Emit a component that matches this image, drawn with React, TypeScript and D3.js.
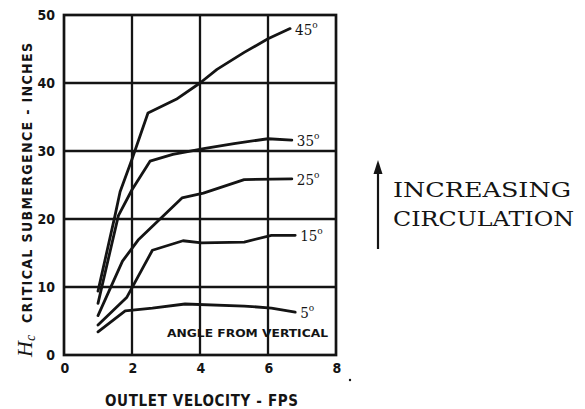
import React from "react";
import * as d3 from "d3";

const xTicks = [0, 2, 4, 6, 8];
const yTicks = [0, 10, 20, 30, 40, 50];
const seriesLabels = ["45°", "35°", "25°", "15°", "5°"];
const curve45 = [[1.0, 9.4], [1.5, 20.5], [1.65, 24.0], [2.0, 28.8], [2.47, 35.6], [3.3, 37.6], [4.0, 40.0], [4.5, 42.0], [5.3, 44.5], [6.0, 46.5], [6.65, 48.0]];
const curve35 = [[1.0, 7.6], [1.6, 20.5], [2.0, 24.3], [2.53, 28.5], [3.2, 29.5], [4.15, 30.4], [5.0, 31.1], [6.0, 31.8], [6.7, 31.6]];
const curve25 = [[1.0, 5.8], [1.72, 13.8], [2.18, 16.9], [3.47, 23.1], [4.1, 23.8], [5.3, 25.8], [6.7, 25.9]];
const curve15 = [[1.0, 4.4], [1.85, 8.5], [2.6, 15.4], [3.5, 16.8], [4.05, 16.5], [5.3, 16.6], [6.1, 17.6], [6.8, 17.6]];
const curve5 = [[1.0, 3.4], [1.8, 6.5], [2.6, 6.9], [3.56, 7.5], [5.3, 7.2], [6.1, 6.9], [6.8, 6.3]];
const curves = [curve45, curve35, curve25, curve15, curve5];

export default function App() {
  const x = d3.scaleLinear().domain([0, 8]).range([64, 336]);
  const y = d3.scaleLinear().domain([0, 50]).range([355, 15]);
  const line = d3.line<number[]>().x((d) => x(d[0])).y((d) => y(d[1]));
  const ink = "#141414";
  const stencil = "'DejaVu Sans Condensed', 'DejaVu Sans', sans-serif";
  const slab = "'DejaVu Serif', serif";
  return (
    <svg width={585} height={409} style={{ position: "absolute", left: 0, top: 0, background: "#fff" }}>
      {/* grid */}
      {xTicks.slice(1, -1).map((t) => (
        <line key={"gx" + t} x1={x(t)} x2={x(t)} y1={y(50)} y2={y(0)} stroke={ink} strokeWidth={2.3} />
      ))}
      {yTicks.slice(1, -1).map((t) => (
        <line key={"gy" + t} x1={x(0)} x2={x(8)} y1={y(t)} y2={y(t)} stroke={ink} strokeWidth={2.3} />
      ))}
      <rect x={x(0)} y={y(50)} width={x(8) - x(0)} height={y(0) - y(50)} fill="none" stroke={ink} strokeWidth={2.7} />
      {/* tick labels */}
      {xTicks.map((t) => (
        <text key={"xt" + t} x={x(t) + 1} y={373} textAnchor="middle" fontFamily={stencil} fontWeight="bold" fontSize={14} fill={ink}>{t}</text>
      ))}
      {yTicks.map((t) => (
        <text key={"yt" + t} x={55} y={y(t) + 5} textAnchor="end" fontFamily={stencil} fontWeight="bold" fontSize={14} fill={ink}>{t}</text>
      ))}
      {/* curves */}
      {curves.map((c, i) => (
        <path key={"c" + i} d={line(c) || ""} fill="none" stroke={ink} strokeWidth={2.8} strokeLinejoin="round" strokeLinecap="round" />
      ))}
      {curves.map((c, i) => {
        const last = c[c.length - 1];
        return (
          <text key={"l" + i} x={x(last[0]) + 5} y={y(last[1]) + 6} fontFamily="'DejaVu Serif Condensed', 'DejaVu Serif', serif" fontSize={15} fill={ink}>
            {seriesLabels[i].replace("°", "")}
            <tspan dy={-7} fontSize={10}>o</tspan>
          </text>
        );
      })}
      <text x={167} y={337} fontFamily={stencil} fontWeight="bold" fontSize={10.5} textLength={161} lengthAdjust="spacingAndGlyphs" fill={ink}>ANGLE FROM VERTICAL</text>
      {/* axis titles */}
      <text x={105} y={406} fontFamily={stencil} fontWeight="bold" fontSize={15} textLength={193} lengthAdjust="spacing" fill={ink}>OUTLET VELOCITY - FPS</text>
      <g transform="translate(32,357) rotate(-90)">
        <text x={0} y={0} fontFamily="'Liberation Serif', serif" fontStyle="italic" fontSize={22} fill={ink}>H<tspan fontSize={14} dy={3}>c</tspan></text>
        <text x={34} y={0} fontFamily={stencil} fontWeight="bold" fontSize={14} textLength={280} lengthAdjust="spacing" fill={ink}>CRITICAL SUBMERGENCE - INCHES</text>
      </g>
      {/* arrow annotation */}
      <line x1={378} x2={378} y1={170} y2={249} stroke={ink} strokeWidth={2.2} />
      <path d="M378,160 L373.5,174 L382.5,174 Z" fill={ink} />
      <text x={393} y={197} fontFamily={slab} fontSize={21} textLength={178} lengthAdjust="spacingAndGlyphs" fill={ink}>INCREASING</text>
      <text x={393} y={226} fontFamily={slab} fontSize={21} textLength={181} lengthAdjust="spacingAndGlyphs" fill={ink}>CIRCULATION</text>
      <circle cx={350} cy={380} r={1.2} fill={ink} />
    </svg>
  );
}
